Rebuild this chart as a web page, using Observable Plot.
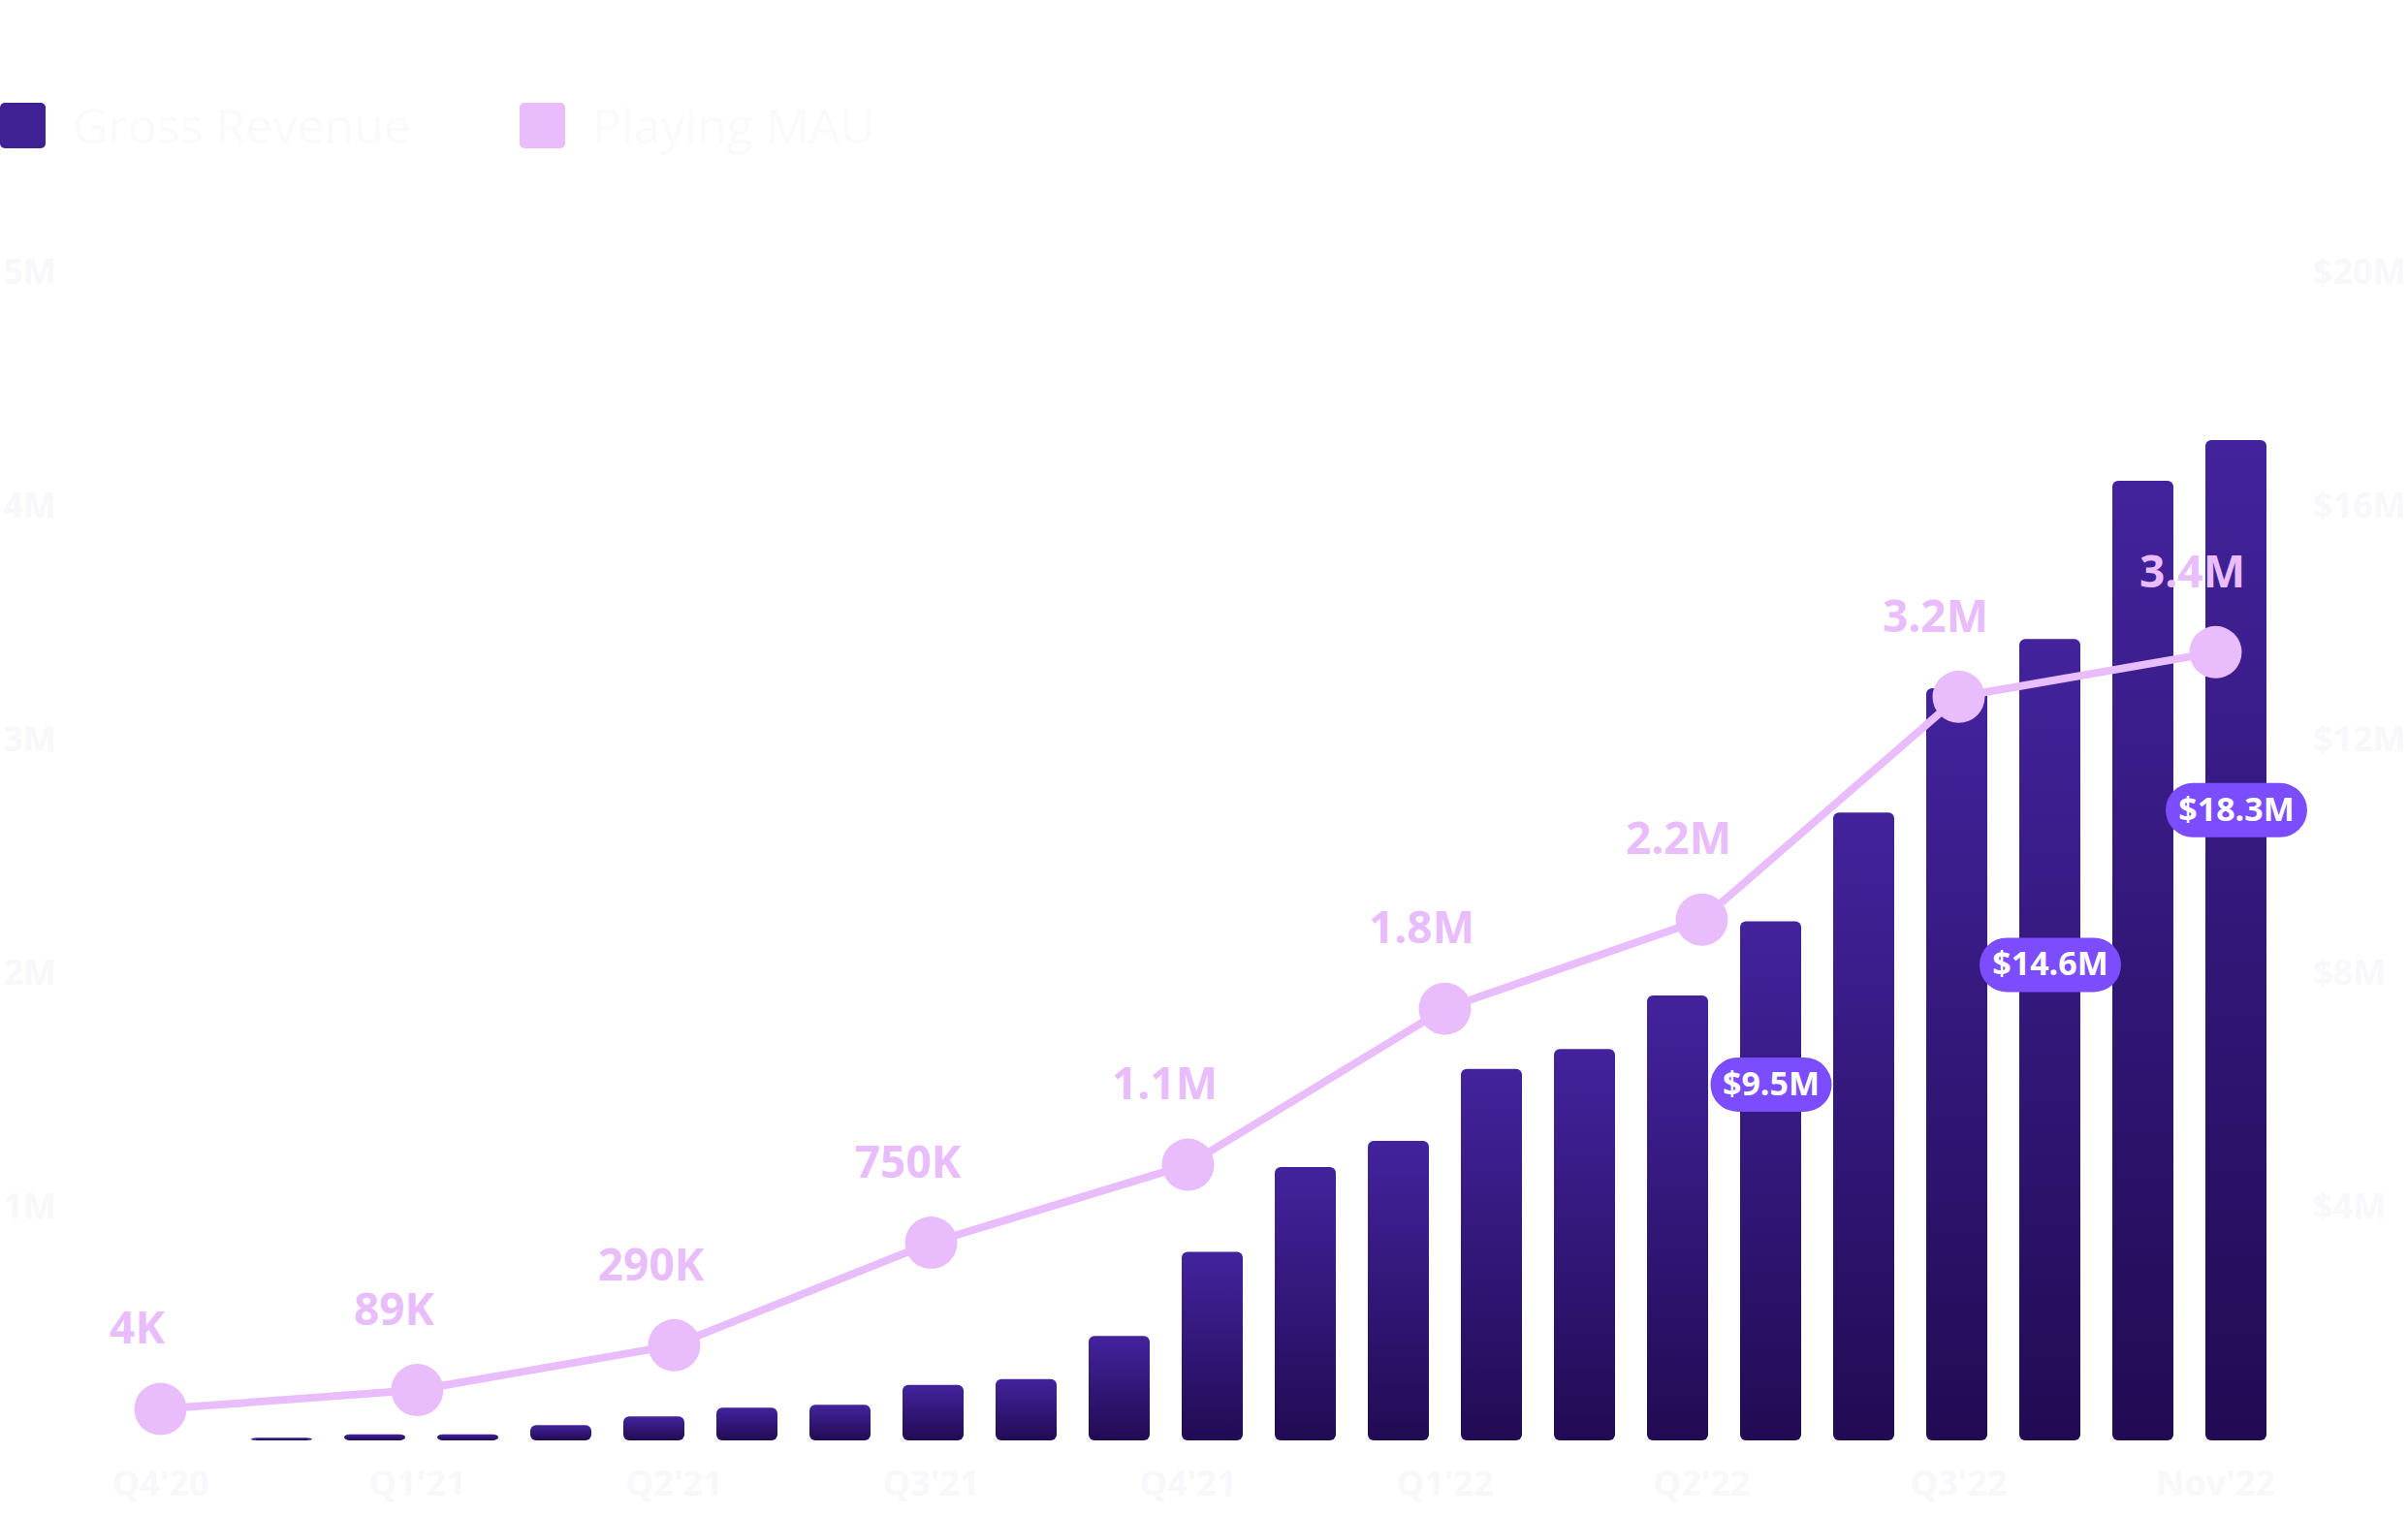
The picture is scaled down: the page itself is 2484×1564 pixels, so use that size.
<!DOCTYPE html>
<html>
<head>
<meta charset="utf-8">
<script src="https://cdn.jsdelivr.net/npm/d3@7"></script>
<script src="https://cdn.jsdelivr.net/npm/@observablehq/plot@0.6"></script>
<style>
  html, body { margin: 0; padding: 0; background: #ffffff; }
  body { width: 2484px; height: 1564px; position: relative; overflow: hidden; font-family: "Open Sans", sans-serif; }
  #legend { position: absolute; left: 0; top: 106px; display: flex; align-items: center; height: 47px; }
  .item { display: flex; align-items: center; }
  .swatch { width: 47px; height: 47px; border-radius: 5px; margin-right: 28px; }
  .label { font-size: 50px; color: #faf9fc; line-height: 47px; white-space: nowrap; }
  #chart { position: absolute; left: 0; top: 180px; width: 2484px; height: 1384px; }
  #chart svg { position: absolute; left: 0; top: 0; }
</style>
</head>
<body>
<div id="legend"></div>
<div id="chart"></div>
<script>
// ---- data ----
const revenueMonths = ["Feb'21","Mar'21","Apr'21","May'21","Jun'21","Jul'21","Aug'21","Sep'21","Oct'21","Nov'21","Dec'21",
  "Jan'22","Feb'22","Mar'22","Apr'22","May'22","Jun'22","Jul'22","Aug'22","Sep'22","Oct'22","Nov'22"];
const revenueValues = [0.045, 0.105, 0.105, 0.26, 0.41, 0.56, 0.61, 0.95, 1.05, 1.79, 3.23,
  4.68, 5.13, 6.36, 6.70, 7.62, 8.89, 10.75, 12.88, 13.72, 16.43, 17.13]; // $M

const mauQuarters = ["Q4'20","Q1'21","Q2'21","Q3'21","Q4'21","Q1'22","Q2'22","Q3'22","Nov'22"];
const mauValues = [4e3, 89e3, 290e3, 750e3, 1.1e6, 1.8e6, 2.2e6, 3.2e6, 3.4e6];
const mauLabels = ["4K","89K","290K","750K","1.1M","1.8M","2.2M","3.2M","3.4M"];

const badgeMonths = ["Jun'22","Sep'22","Nov'22"];
const badgeLabels = ["$9.5M","$14.6M","$18.3M"];
const badgeLevels = [6.1, 8.15, 10.8]; // $M, vertical placement of the badges

const revenueTicks = [4, 8, 12, 16, 20]; // $M
const revenueTickLabels = ["$4M","$8M","$12M","$16M","$20M"];
const mauTickLabels = ["1M","2M","3M","4M","5M"];

const seriesNames = ["Gross Revenue", "Playing MAU"];
const seriesColors = ["#3f2193", "#e9bdfb"];

// ---- tables ----
const revenue = revenueMonths.map((m, i) => ({month: m, value: revenueValues[i]}));
const mau = mauQuarters.map((q, i) => ({quarter: q, value: mauValues[i], label: mauLabels[i]}));
const badges = badgeMonths.map((m, i) => ({month: m, level: badgeLevels[i], label: badgeLabels[i]}));

// ---- legend ----
const legend = document.getElementById("legend");
seriesNames.forEach((name, i) => {
  const it = document.createElement("div");
  it.className = "item";
  if (i > 0) it.style.marginLeft = "112px";
  it.innerHTML = `<div class="swatch" style="background:${seriesColors[i]}"></div><div class="label">${name}</div>`;
  legend.appendChild(it);
});

const textColor = "#f8f7fa";
const W = 2484, H = 1384;

const gradientDef = () => {
  const ns = "http://www.w3.org/2000/svg";
  const defs = document.createElementNS(ns, "defs");
  const lg = document.createElementNS(ns, "linearGradient");
  lg.setAttribute("id", "barGrad");
  lg.setAttribute("x1", "0"); lg.setAttribute("y1", "0");
  lg.setAttribute("x2", "0"); lg.setAttribute("y2", "1");
  [["0", "#43239d"], ["1", "#210b53"]].forEach(([o, c]) => {
    const s = document.createElementNS(ns, "stop");
    s.setAttribute("offset", o); s.setAttribute("stop-color", c);
    lg.appendChild(s);
  });
  defs.appendChild(lg);
  return defs;
};

const pill = {
  draw(ctx, size) {
    const w = Math.sqrt(size / Math.PI), h = 28;
    ctx.moveTo(-w + h, -h);
    ctx.lineTo(w - h, -h);
    ctx.arc(w - h, 0, h, -Math.PI / 2, Math.PI / 2);
    ctx.lineTo(-w + h, h);
    ctx.arc(-w + h, 0, h, Math.PI / 2, 3 * Math.PI / 2);
    ctx.closePath();
  }
};

const svgStyle = {fontFamily: "'Open Sans', sans-serif", fontWeight: 700, background: "transparent", overflow: "visible"};

// ---- bars layer ----
const bars = Plot.plot({
  width: W, height: H,
  marginLeft: 258.5, marginRight: 146.5, marginTop: 101, marginBottom: 78,
  style: svgStyle,
  x: {type: "band", domain: revenueMonths, paddingInner: 0.344, paddingOuter: 0, axis: null},
  y: {domain: [0, 20], axis: null},
  r: {type: "identity"},
  marks: [
    gradientDef,
    Plot.barY(revenue, {x: "month", y: "value", fill: "url(#barGrad)", rx: 6}),
    Plot.axisY({anchor: "right", ticks: revenueTicks, tickFormat: d => revenueTickLabels[revenueTicks.indexOf(d)],
      tickSize: 0, tickPadding: 48, textAnchor: "start", fontSize: 36, fill: textColor, label: null}),
    Plot.axisY({anchor: "left", ticks: revenueTicks, tickFormat: d => mauTickLabels[revenueTicks.indexOf(d)],
      tickSize: 0, tickPadding: 201, textAnchor: "end", fontSize: 36, fill: textColor, label: null}),
    Plot.dot(badges, {x: "month", y: "level", r: d => 10 + 10.5 * d.label.length, symbol: pill, fill: "#7c4dff"}),
    Plot.text(badges, {x: "month", y: "level", text: "label", fill: "#ffffff", fontSize: 34, fontWeight: 700})
  ]
});

// ---- line layer ----
const line = Plot.plot({
  width: W, height: H,
  marginLeft: 162, marginRight: 196, marginTop: 124.5, marginBottom: 110,
  style: svgStyle,
  x: {type: "point", domain: mauQuarters, padding: 0, label: null},
  y: {domain: [0, 5e6], axis: null},
  marks: [
    Plot.line(mau, {x: "quarter", y: "value", stroke: seriesColors[1], strokeWidth: 8}),
    Plot.dot(mau, {x: "quarter", y: "value", r: 27, fill: seriesColors[1]}),
    Plot.text(mau, {x: "quarter", y: "value", text: "label", dy: -82, dx: -24, fill: seriesColors[1], fontSize: 46, fontWeight: 700}),
    Plot.axisX({anchor: "bottom", tickSize: 0, tickPadding: 63, fontSize: 36, fill: textColor, label: null})
  ]
});

const chart = document.getElementById("chart");
chart.appendChild(bars);
chart.appendChild(line);
</script>
</body>
</html>
